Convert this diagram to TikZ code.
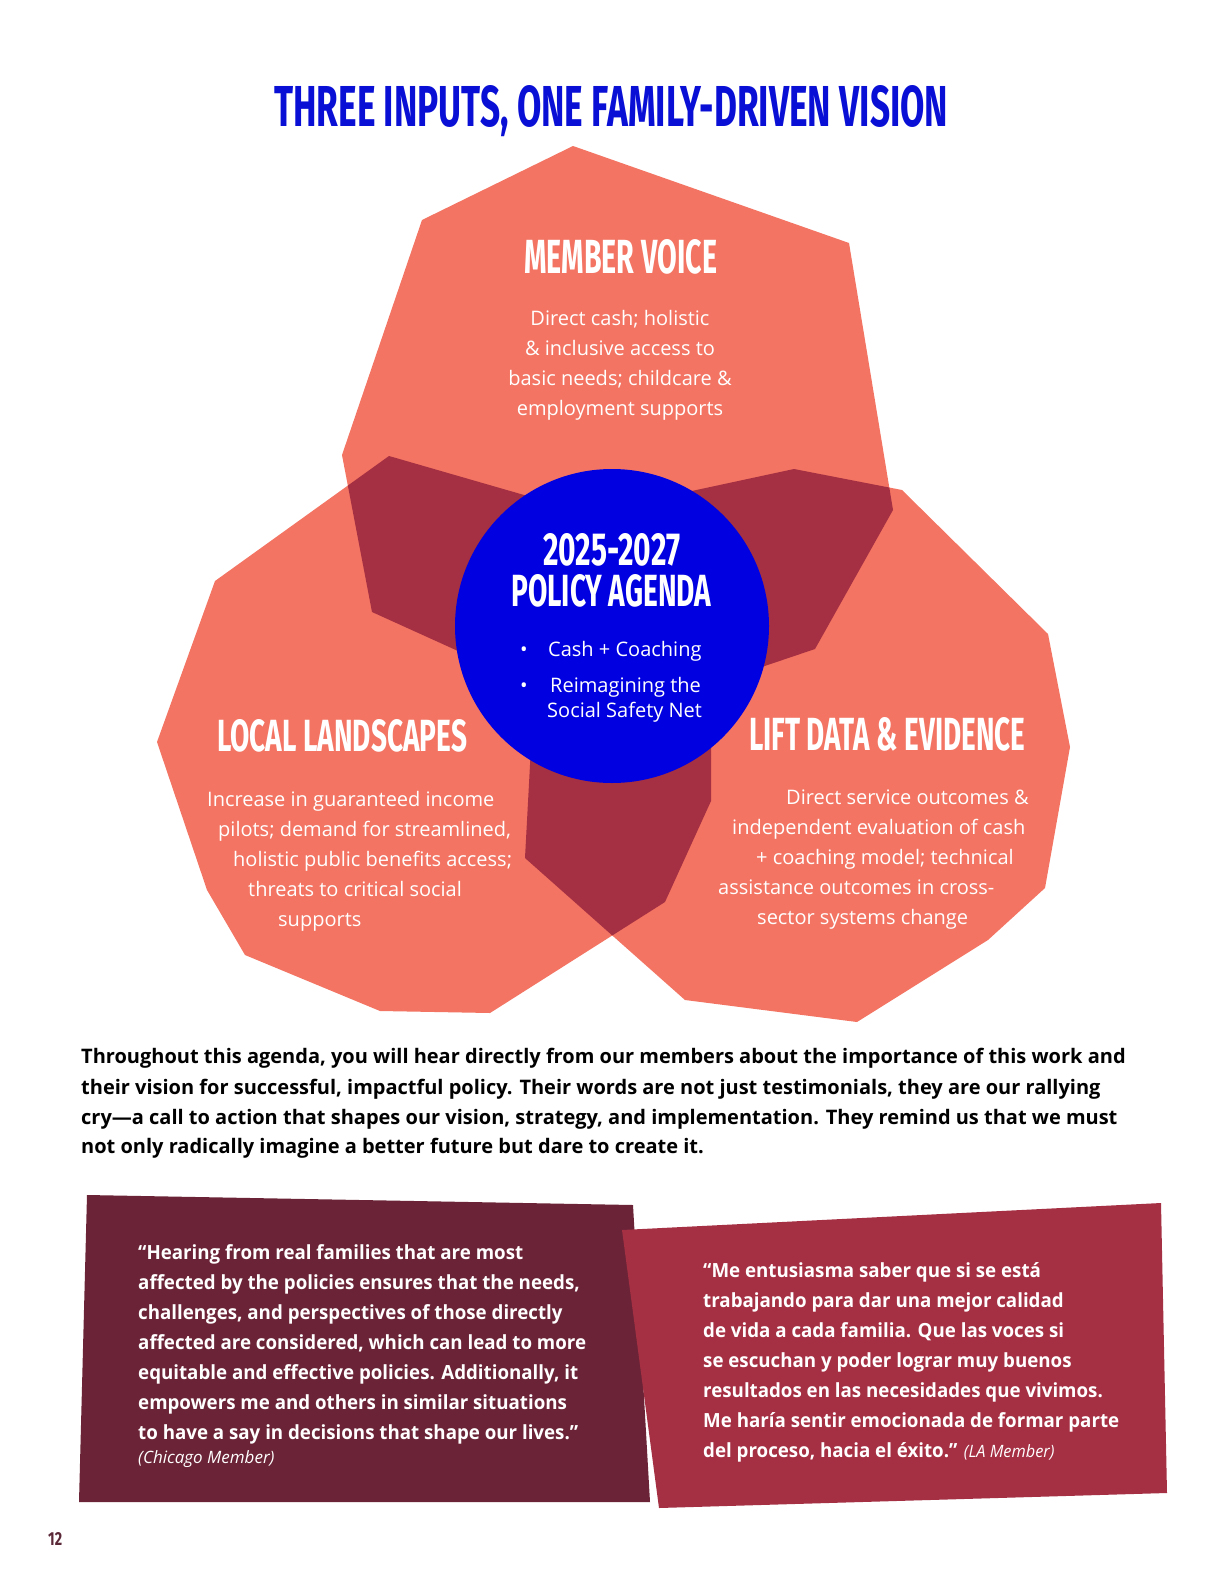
\documentclass[tikz,border=0pt]{standalone}
\usepackage{fontspec}
\usepackage{graphicx}
\setmainfont{Open Sans}
\newfontfamily\headfont{Fira Sans}
\newfontfamily\qfont[FakeStretch=0.96]{Open Sans}
\definecolor{coral}{HTML}{F37462}
\definecolor{overlap}{HTML}{A52F43}
\definecolor{wine}{HTML}{6B2437}
\definecolor{agenda}{HTML}{0000E1}
\definecolor{titleblue}{HTML}{0A0FD6}
\definecolor{pagenum}{HTML}{5B2838}
\newcommand\headbox[3]{\resizebox{#1pt}{#2pt}{\headfont\bfseries #3}}
\def\toppetal{(573,146) -- (849,243) -- (893,510) -- (815,649) -- (608,719) -- (372,612) -- (342,455) -- (422,220) -- cycle}
\def\leftpetal{(389,456) -- (711,549) -- (711,801) -- (665,902) -- (490,1013) -- (380,1011) -- (245,955) -- (207,890) -- (157,742) -- (215,581) -- cycle}
\def\rightpetal{(543,523) -- (794,469) -- (902,490) -- (1048,634) -- (1070,747) -- (1045,888) -- (988,940) -- (857,1022) -- (685,1000) -- (525,858) -- cycle}
\tikzset{
  petal/.style={fill=coral},
  lap/.style={fill=overlap},
  head/.style={inner sep=0pt, anchor=north west, text=white},
  body/.style={inner sep=0pt, anchor=base west, text=white, font=\fontsize{20}{30}\selectfont},
  para/.style={inner sep=0pt, anchor=base west, text=black, font=\bfseries\fontsize{20}{30}\selectfont},
  quote/.style={inner sep=0pt, anchor=base west, text=white, font=\qfont\bfseries\fontsize{19.5}{30}\selectfont},
  who/.style={font=\mdseries\itshape\fontsize{17}{20}\selectfont},
}
\begin{document}
\begin{tikzpicture}[x=1pt,y=-1pt]
\useasboundingbox[fill=white] (0,0) rectangle (1224,1584);

% title
\node[head, text=titleblue] (title) at (274,85) {\headbox{674}{41}{THREE INPUTS, ONE FAMILY-DRIVEN VISION}};

% petals
\fill[petal] \toppetal;
\fill[petal] \leftpetal;
\fill[petal] \rightpetal;
\begin{scope}
  \clip \toppetal;
  \fill[lap] \leftpetal;
  \fill[lap] \rightpetal;
\end{scope}
\begin{scope}
  \clip \leftpetal;
  \fill[lap] \rightpetal;
\end{scope}

% centre circle
\node[circle, fill=agenda, minimum size=314pt, inner sep=0pt] (agenda) at (612,626) {};

% headings
\node[head] (mv) at (524,239) {\headbox{193}{34}{MEMBER VOICE}};
\node[head] (yrs) at (543,533) {\headbox{137}{32}{2025-2027}};
\node[head] (pa) at (511,574) {\headbox{200}{32}{POLICY AGENDA}};
\node[head] (ll) at (217,719) {\headbox{250}{32}{LOCAL LANDSCAPES}};
\node[head] (lift) at (749,717) {\headbox{276}{33}{LIFT DATA \& EVIDENCE}};

% member voice text
\node[body, anchor=base] (mv1) at (620,325) {Direct cash; holistic};
\node[body, anchor=base] (mv2) at (620,355) {\& inclusive access to};
\node[body, anchor=base] (mv3) at (620,385) {basic needs; childcare \&};
\node[body, anchor=base] (mv4) at (620,415) {employment supports};

% local landscapes text
\node[body] (ll1) at (207,806) {Increase in guaranteed income};
\node[body] (ll2) at (218,836) {pilots; demand for streamlined,};
\node[body] (ll3) at (233,866) {holistic public benefits access;};
\node[body] (ll4) at (248,896) {threats to critical social};
\node[body] (ll5) at (278,926) {supports};

% lift data text
\node[body] (ld1) at (786,804) {Direct service outcomes \&};
\node[body] (ld2) at (732,834) {independent evaluation of cash};
\node[body] (ld3) at (756,864) {+ coaching model; technical};
\node[body] (ld4) at (718,894) {assistance outcomes in cross-};
\node[body] (ld5) at (757,924) {sector systems change};

% agenda bullets
\node[body, anchor=base] (b1) at (524,656) {•};
\node[body] (a1) at (548,656) {Cash + Coaching};
\node[body, anchor=base] (b2) at (524,692) {•};
\node[body] (a2) at (550,692) {Reimagining the};
\node[body] (a3) at (547,717) {Social Safety Net};

% paragraph
\node[para] (p1) at (81,1063) {Throughout this agenda, you will hear directly from our members about the importance of this work and};
\node[para] (p2) at (81,1094) {their vision for successful, impactful policy. Their words are not just testimonials, they are our rallying};
\node[para] (p3) at (81,1124) {cry—a call to action that shapes our vision, strategy, and implementation. They remind us that we must};
\node[para] (p4) at (81,1153) {not only radically imagine a better future but dare to create it.};

% quote boxes
\fill[wine] (87,1195) -- (633,1205) -- (650,1502) -- (79,1502) -- cycle;
\fill[overlap] (622,1230) -- (1161,1203) -- (1167,1493) -- (659,1508) -- cycle;

\node[quote] (q1) at (138,1259) {“Hearing from real families that are most};
\node[quote] (q2) at (138,1289) {affected by the policies ensures that the needs,};
\node[quote] (q3) at (138,1319) {challenges, and perspectives of those directly};
\node[quote] (q4) at (138,1349) {affected are considered, which can lead to more};
\node[quote] (q5) at (138,1379) {equitable and effective policies. Additionally, it};
\node[quote] (q6) at (138,1409) {empowers me and others in similar situations};
\node[quote] (q7) at (138,1439) {to have a say in decisions that shape our lives.”};
\node[quote, who] (q8) at (138,1463) {(Chicago Member)};

\node[quote] (r1) at (703,1277) {“Me entusiasma saber que si se está};
\node[quote] (r2) at (703,1307) {trabajando para dar una mejor calidad};
\node[quote] (r3) at (703,1337) {de vida a cada familia. Que las voces si};
\node[quote] (r4) at (703,1367) {se escuchan y poder lograr muy buenos};
\node[quote] (r5) at (703,1397) {resultados en las necesidades que vivimos.};
\node[quote] (r6) at (703,1427) {Me haría sentir emocionada de formar parte};
\node[quote] (r7) at (703,1457) {del proceso, hacia el éxito.” {\mdseries\itshape\fontsize{17}{20}\selectfont (LA Member)}};

% page number
\node[head, text=pagenum] (pg) at (48,1532) {\headbox{14}{13}{12}};
\end{tikzpicture}
\end{document}
